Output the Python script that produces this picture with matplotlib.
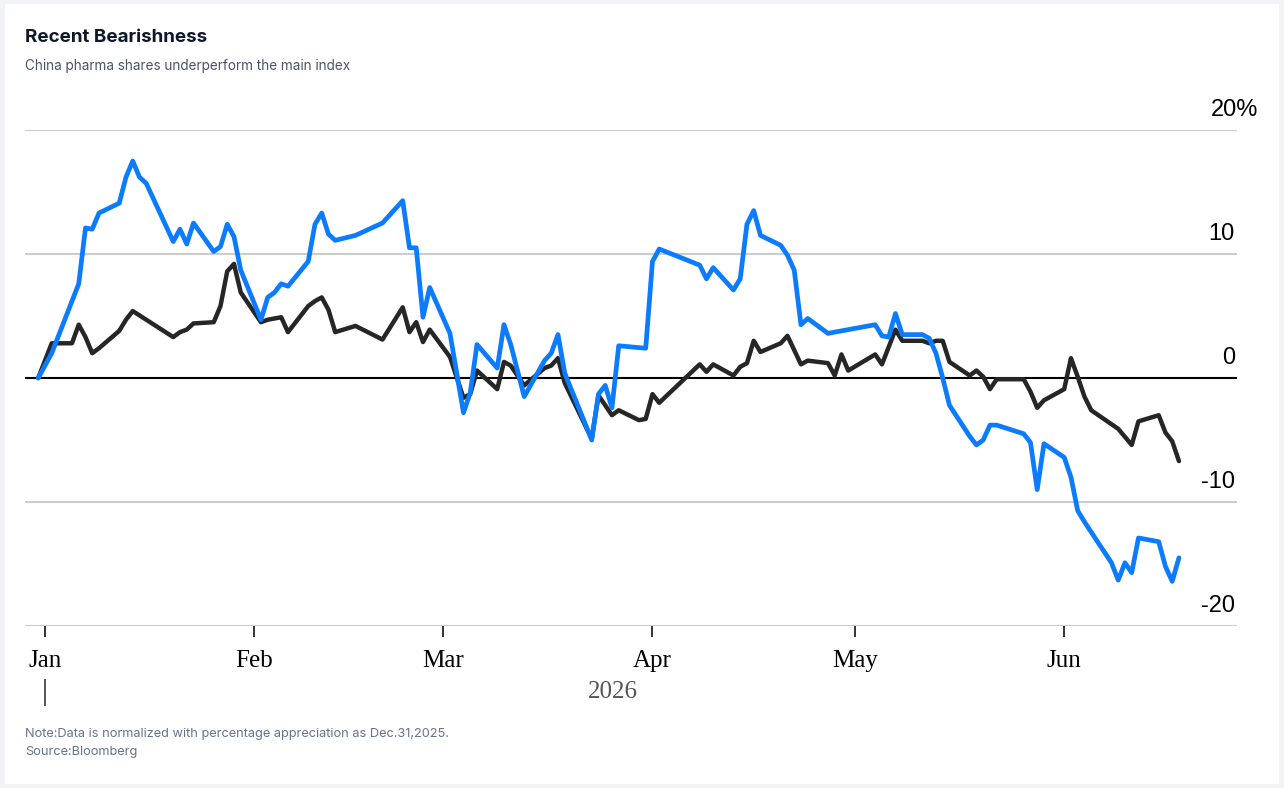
import matplotlib
matplotlib.use('Agg')
import matplotlib.pyplot as plt
import matplotlib.dates as mdates
import matplotlib.transforms as mtrans
from matplotlib.patches import Rectangle
import pandas as pd

# pharma shares (blue) vs main index (black), % change since Dec 31 2025
pharma_dates = ["2025-12-31", "2026-01-02", "2026-01-06", "2026-01-07", "2026-01-08", "2026-01-09",
                "2026-01-12", "2026-01-13", "2026-01-14", "2026-01-15", "2026-01-16", "2026-01-20",
                "2026-01-21", "2026-01-22", "2026-01-23", "2026-01-26", "2026-01-27", "2026-01-28",
                "2026-01-29", "2026-01-30", "2026-02-02", "2026-02-03", "2026-02-04", "2026-02-05",
                "2026-02-06", "2026-02-09", "2026-02-10", "2026-02-11", "2026-02-12", "2026-02-13",
                "2026-02-16", "2026-02-20", "2026-02-23", "2026-02-24", "2026-02-25", "2026-02-26",
                "2026-02-27", "2026-03-02", "2026-03-04", "2026-03-05", "2026-03-06", "2026-03-09",
                "2026-03-10", "2026-03-11", "2026-03-13", "2026-03-16", "2026-03-17", "2026-03-18",
                "2026-03-19", "2026-03-23", "2026-03-24", "2026-03-25", "2026-03-26", "2026-03-27",
                "2026-03-31", "2026-04-01", "2026-04-02", "2026-04-08", "2026-04-09", "2026-04-10",
                "2026-04-13", "2026-04-14", "2026-04-15", "2026-04-16", "2026-04-17", "2026-04-20",
                "2026-04-21", "2026-04-22", "2026-04-23", "2026-04-24", "2026-04-27", "2026-05-04",
                "2026-05-05", "2026-05-06", "2026-05-07", "2026-05-08", "2026-05-11", "2026-05-12",
                "2026-05-13", "2026-05-14", "2026-05-15", "2026-05-18", "2026-05-19", "2026-05-20",
                "2026-05-21", "2026-05-22", "2026-05-26", "2026-05-27", "2026-05-28", "2026-05-29",
                "2026-06-01", "2026-06-02", "2026-06-03", "2026-06-04", "2026-06-08", "2026-06-09",
                "2026-06-10", "2026-06-11", "2026-06-12", "2026-06-15", "2026-06-16", "2026-06-17",
                "2026-06-18"]
pharma_vals = [0, 2.0, 7.6, 12.1, 12.0, 13.3,
               14.1, 16.2, 17.5, 16.2, 15.7, 11.0,
               12.0, 10.8, 12.5, 10.2, 10.6, 12.4,
               11.4, 8.7, 4.7, 6.5, 6.9, 7.6,
               7.4, 9.4, 12.4, 13.3, 11.6, 11.1,
               11.5, 12.5, 14.3, 10.5, 10.5, 4.9,
               7.3, 3.6, -2.8, -1.2, 2.7, 0.8,
               4.3, 2.7, -1.5, 1.4, 2.0, 3.5,
               0.4, -5.0, -1.3, -0.6, -2.4, 2.6,
               2.4, 9.4, 10.4, 9.1, 8.0, 8.9,
               7.1, 8.0, 12.4, 13.5, 11.5, 10.7,
               9.9, 8.7, 4.3, 4.8, 3.6, 4.3,
               3.4, 3.3, 5.2, 3.5, 3.5, 3.2,
               2.0, 0.0, -2.2, -4.7, -5.4, -5.0,
               -3.8, -3.8, -4.5, -5.2, -9.0, -5.3,
               -6.4, -8.0, -10.7, -11.6, -14.9, -16.3,
               -14.9, -15.7, -12.9, -13.2, -15.2, -16.4,
               -14.5]

index_dates = ["2025-12-31", "2026-01-02", "2026-01-05", "2026-01-06", "2026-01-07", "2026-01-08",
               "2026-01-09", "2026-01-12", "2026-01-13", "2026-01-14", "2026-01-16", "2026-01-20",
               "2026-01-21", "2026-01-22", "2026-01-23", "2026-01-26", "2026-01-27", "2026-01-28",
               "2026-01-29", "2026-01-30", "2026-02-02", "2026-02-03", "2026-02-04", "2026-02-05",
               "2026-02-06", "2026-02-09", "2026-02-10", "2026-02-11", "2026-02-12", "2026-02-13",
               "2026-02-16", "2026-02-20", "2026-02-23", "2026-02-24", "2026-02-25", "2026-02-26",
               "2026-02-27", "2026-03-02", "2026-03-04", "2026-03-05", "2026-03-06", "2026-03-09",
               "2026-03-10", "2026-03-11", "2026-03-13", "2026-03-16", "2026-03-17", "2026-03-18",
               "2026-03-19", "2026-03-23", "2026-03-24", "2026-03-26", "2026-03-27", "2026-03-30",
               "2026-03-31", "2026-04-01", "2026-04-02", "2026-04-08", "2026-04-09", "2026-04-10",
               "2026-04-13", "2026-04-14", "2026-04-15", "2026-04-16", "2026-04-17", "2026-04-20",
               "2026-04-21", "2026-04-23", "2026-04-24", "2026-04-27", "2026-04-28", "2026-04-29",
               "2026-04-30", "2026-05-04", "2026-05-05", "2026-05-06", "2026-05-07", "2026-05-08",
               "2026-05-11", "2026-05-12", "2026-05-13", "2026-05-14", "2026-05-15", "2026-05-18",
               "2026-05-19", "2026-05-20", "2026-05-21", "2026-05-22", "2026-05-26", "2026-05-27",
               "2026-05-28", "2026-05-29", "2026-06-01", "2026-06-02", "2026-06-03", "2026-06-04",
               "2026-06-05", "2026-06-09", "2026-06-11", "2026-06-12", "2026-06-15", "2026-06-16",
               "2026-06-17", "2026-06-18"]
index_vals = [0, 2.8, 2.8, 4.3, 3.3, 2.0,
              2.4, 3.8, 4.7, 5.4, 4.7, 3.3,
              3.7, 3.9, 4.4, 4.5, 5.8, 8.6,
              9.2, 6.9, 4.5, 4.7, 4.8, 4.9,
              3.7, 5.8, 6.2, 6.5, 5.5, 3.7,
              4.2, 3.1, 5.7, 3.7, 4.5, 2.9,
              3.9, 1.7, -1.6, -1.3, 0.6, -0.9,
              1.3, 1.0, -0.6, 0.8, 1.0, 1.6,
              -0.4, -4.9, -1.4, -3.0, -2.6, -3.4,
              -3.3, -1.3, -2.0, 1.1, 0.5, 1.1,
              0.2, 0.9, 1.2, 3.0, 2.1, 2.8,
              3.4, 1.1, 1.4, 1.2, 0.2, 1.9,
              0.6, 1.9, 1.1, 2.5, 3.9, 3.0,
              3.0, 2.8, 3.0, 3.0, 1.3, 0.2,
              0.6, 0.1, -0.9, -0.1, -0.1, -1.1,
              -2.4, -1.8, -0.9, 1.6, 0.1, -1.5,
              -2.6, -4.1, -5.4, -3.5, -3.0, -4.4,
              -5.1, -6.7]

y_ticks = [-20, -10, 0, 10, 20]
y_labels = ["-20", "-10", "0", "10", "20%"]

W, H = 1284, 788
fig = plt.figure(figsize=(W / 100, H / 100), dpi=100)
fig.patch.set_facecolor('#f1f3f6')
fig.patches.append(Rectangle((5 / W, 4 / H), 1 - 10 / W, 1 - 8 / H, transform=fig.transFigure,
                             facecolor='white', edgecolor='none', zorder=-5))

# axes spans gridline extent: x 25..1237 px, y 130..626 px
ax = fig.add_axes([25 / W, (H - 626) / H, 1212 / W, 496 / H])
ax.set_facecolor('none')

jan1 = mdates.date2num(pd.Timestamp("2026-01-01"))
ax.set_xlim(jan1 - 2.96, jan1 + 176.6)
ax.set_ylim(-20, 20)

for v in y_ticks:
    ax.axhline(v, color='black' if v == 0 else '#cccccc', lw=1.5, zorder=1)

ax.plot(pd.to_datetime(index_dates), index_vals, color='#262626', lw=3.2,
        solid_joinstyle='round', solid_capstyle='round', zorder=3)
ax.plot(pd.to_datetime(pharma_dates), pharma_vals, color='#0b7bff', lw=3.4,
        solid_joinstyle='round', solid_capstyle='round', zorder=4)

for sp in ax.spines.values():
    sp.set_visible(False)

# y labels sit above the gridlines at the right end
ylab_tr = mtrans.blended_transform_factory(ax.transAxes, ax.transData)
for v, lab in zip(y_ticks, y_labels):
    dx = 21 if lab.endswith('%') else -2
    tr = mtrans.offset_copy(ylab_tr, fig=fig, x=dx, y=9, units='dots')
    ax.text(1.0, v, lab, transform=tr, ha='right', va='bottom', fontsize=17,
            family='Liberation Sans', color='black')
ax.set_yticks([])

ax.xaxis.set_major_locator(mdates.MonthLocator())
ax.xaxis.set_major_formatter(mdates.DateFormatter('%b'))
ax.tick_params(axis='x', direction='out', length=8, width=1.4, color='#333333', pad=9)
for t in ax.get_xticklabels():
    t.set_family('Liberation Serif')
    t.set_fontsize(18)
    t.set_color('black')

# year marker under Jan
yr_tr = mtrans.blended_transform_factory(ax.transData, ax.transAxes)
ax.plot([jan1, jan1], [-0.109, -0.159], transform=yr_tr, color='#555555', lw=1.4, clip_on=False)
ax.text((613 - 25) / 1212, (626 - 692) / 496, "2026", transform=ax.transAxes, ha='center',
        va='center', fontsize=18, family='Liberation Serif', color='#555555')

fig.text(25 / W, 1 - 37 / H, "Recent Bearishness", fontsize=13.5, fontweight='bold',
         family='Inter', color='#0f172a', va='center')
fig.text(25 / W, 1 - 66 / H, "China pharma shares underperform the main index", fontsize=9.75,
         family='Inter', color='#475569', va='center')
fig.text(25 / W, 1 - 734 / H, "Note:Data is normalized with percentage appreciation as Dec.31,2025.",
         fontsize=9.2, family='Inter', color='#64748b', va='center')
fig.text(25 / W, 1 - 752 / H, "Source:Bloomberg", fontsize=9.2, family='Inter',
         color='#64748b', va='center')

fig.savefig('out.png', dpi=100)
